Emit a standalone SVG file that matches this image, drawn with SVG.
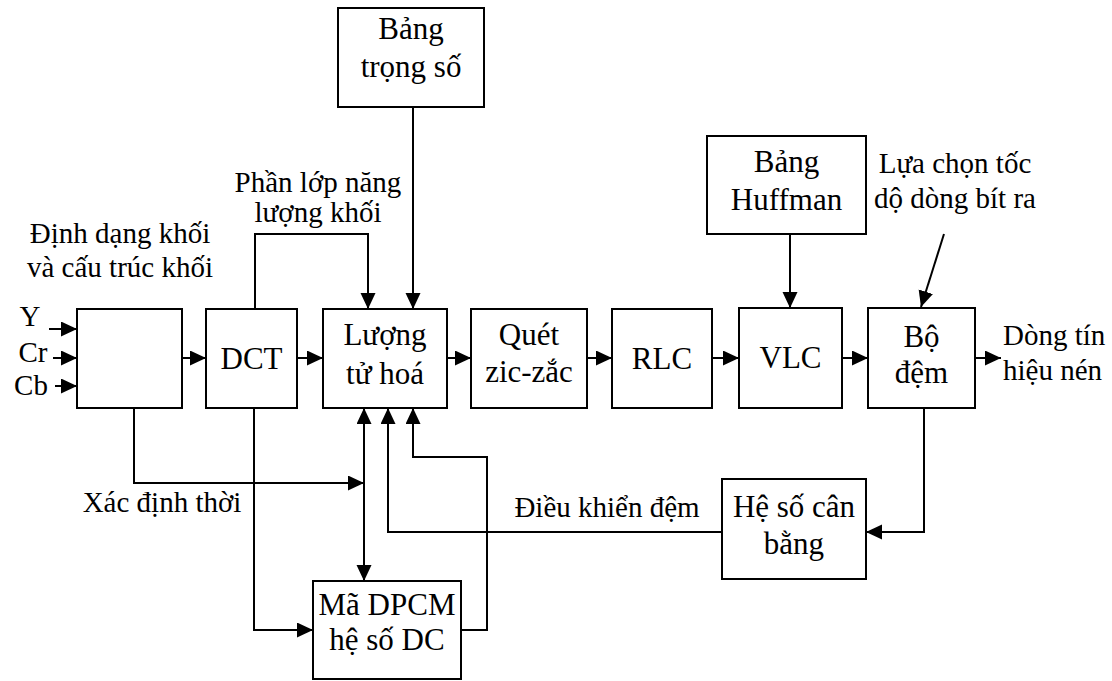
<svg xmlns="http://www.w3.org/2000/svg" width="1112" height="681" viewBox="0 0 1112 681" font-family="'Liberation Serif', 'Times New Roman', serif">
<defs>
<marker id="arr" markerUnits="userSpaceOnUse" markerWidth="16" markerHeight="16" refX="16" refY="7.5" orient="auto">
<path d="M0,0 L16,7.5 L0,15 Z" fill="#000"/>
</marker>
<marker id="arrs" markerUnits="userSpaceOnUse" markerWidth="16" markerHeight="16" refX="16" refY="7.5" orient="auto-start-reverse">
<path d="M0,0 L16,7.5 L0,15 Z" fill="#000"/>
</marker>
<style>
.box{fill:#fff;stroke:#000;stroke-width:2}
.ln{fill:none;stroke:#000;stroke-width:2}
.t{font-size:31px;fill:#000;text-anchor:middle}
.a{font-size:29px;fill:#000;text-anchor:middle}
.s{font-size:29px;fill:#000;text-anchor:middle}
</style>
</defs>
<rect width="1112" height="681" fill="#fff"/>
<g id="connectors">
<line class="ln" x1="49" y1="329" x2="77" y2="329" marker-end="url(#arr)"/>
<line class="ln" x1="53" y1="358" x2="77" y2="358" marker-end="url(#arr)"/>
<line class="ln" x1="55" y1="386" x2="77" y2="386" marker-end="url(#arr)"/>
<line class="ln" x1="182" y1="358" x2="206" y2="358" marker-end="url(#arr)"/>
<line class="ln" x1="297" y1="358" x2="323" y2="358" marker-end="url(#arr)"/>
<line class="ln" x1="447" y1="358" x2="471" y2="358" marker-end="url(#arr)"/>
<line class="ln" x1="587" y1="358" x2="612" y2="358" marker-end="url(#arr)"/>
<line class="ln" x1="712" y1="358" x2="739" y2="358" marker-end="url(#arr)"/>
<line class="ln" x1="842" y1="358" x2="868" y2="358" marker-end="url(#arr)"/>
<line class="ln" x1="975" y1="358" x2="1001" y2="358" marker-end="url(#arr)"/>
<polyline class="ln" points="255,309 255,234 368,234 368,309" marker-end="url(#arr)"/>
<line class="ln" x1="413" y1="107" x2="413" y2="309" marker-end="url(#arr)"/>
<line class="ln" x1="790" y1="234" x2="790" y2="308" marker-end="url(#arr)"/>
<line class="ln" x1="944" y1="234" x2="921" y2="307" marker-end="url(#arr)"/>
<polyline class="ln" points="924,408 924,532 866,532" marker-end="url(#arr)"/>
<polyline class="ln" points="722,532 388,532 388,408" marker-end="url(#arr)"/>
<polyline class="ln" points="134,408 134,483 364,483" marker-end="url(#arr)"/>
<line class="ln" x1="364" y1="408" x2="364" y2="581" marker-start="url(#arrs)" marker-end="url(#arr)"/>
<polyline class="ln" points="254,408 254,630 313,630" marker-end="url(#arr)"/>
<polyline class="ln" points="461,630 487,630 487,457 413,457 413,408" marker-end="url(#arr)"/>
</g>
<g id="labels">
<text class="a" x="120" y="243">Định dạng khối</text>
<text class="a" x="120" y="277">và cấu trúc khối</text>
<text class="a" x="318" y="192">Phần lớp năng</text>
<text class="a" x="318" y="222">lượng khối</text>
<text class="a" x="955" y="173">Lựa chọn tốc</text>
<text class="a" x="955" y="208">dộ dòng bít ra</text>
<text class="a" x="1003" y="345" style="text-anchor:start">Dòng tín</text>
<text class="a" x="1003" y="380" style="text-anchor:start">hiệu nén</text>
<text class="a" x="162" y="512">Xác định thời</text>
<text class="a" x="607" y="517">Điều khiển đệm</text>
<text class="s" x="30" y="326">Y</text>
<text class="s" x="33" y="362">Cr</text>
<text class="s" x="31" y="395">Cb</text>
</g>
<g id="n-bangtrongso"><rect class="box" x="338" y="8" width="146" height="99"/><text class="t" x="411" y="39">Bảng</text><text class="t" x="411" y="77">trọng số</text></g>
<g id="n-huffman"><rect class="box" x="707" y="136" width="159" height="98"/><text class="t" x="786.5" y="172">Bảng</text><text class="t" x="786.5" y="210">Huffman</text></g>
<g id="n-format"><rect class="box" x="77" y="309" width="105" height="99"/></g>
<g id="n-dct"><rect class="box" x="206" y="309" width="91" height="99"/><text class="t" x="251.5" y="369">DCT</text></g>
<g id="n-luongtu"><rect class="box" x="323" y="309" width="124" height="99"/><text class="t" x="385" y="345">Lượng</text><text class="t" x="385" y="384">tử hoá</text></g>
<g id="n-quet"><rect class="box" x="471" y="309" width="116" height="99"/><text class="t" x="529" y="345">Quét</text><text class="t" x="529" y="382">zic-zắc</text></g>
<g id="n-rlc"><rect class="box" x="612" y="309" width="100" height="99"/><text class="t" x="662" y="369">RLC</text></g>
<g id="n-vlc"><rect class="box" x="739" y="308" width="103" height="100"/><text class="t" x="790.5" y="368">VLC</text></g>
<g id="n-bodem"><rect class="box" x="868" y="308" width="107" height="100"/><text class="t" x="921.5" y="347">Bộ</text><text class="t" x="921.5" y="383">đệm</text></g>
<g id="n-heso"><rect class="box" x="722" y="479" width="144" height="100"/><text class="t" x="794" y="517">Hệ số cân</text><text class="t" x="794" y="554">bằng</text></g>
<g id="n-dpcm"><rect class="box" x="313" y="581" width="148" height="98"/><text class="t" x="387" y="615">Mã DPCM</text><text class="t" x="387" y="650">hệ số DC</text></g>
</svg>
